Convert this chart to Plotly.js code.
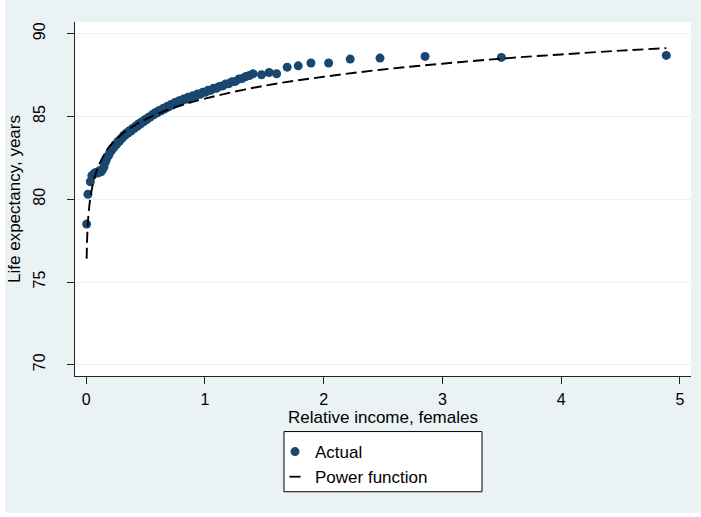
<!DOCTYPE html>
<html>
<head>
<meta charset="utf-8">
<script src="https://cdn.plot.ly/plotly-3.0.1.min.js"></script>
<style>html,body{margin:0;padding:0;background:#FFFFFF;}#chart{width:701px;height:517px;}</style>
</head>
<body>
<div id="chart"></div>
<script>
// Relative income (females) by income percentile
var incomeX = [0.004, 0.015, 0.035, 0.048, 0.062, 0.080, 0.097, 0.112, 0.126, 0.138,
  0.150, 0.160, 0.170, 0.180, 0.190, 0.200, 0.211, 0.222, 0.233, 0.245,
  0.257, 0.268, 0.280, 0.292, 0.304, 0.316, 0.328, 0.340, 0.352, 0.365,
  0.378, 0.391, 0.404, 0.417, 0.430, 0.443, 0.456, 0.470, 0.484, 0.498,
  0.512, 0.526, 0.540, 0.555, 0.570, 0.585, 0.600, 0.615, 0.631, 0.647,
  0.663, 0.679, 0.696, 0.713, 0.730, 0.747, 0.765, 0.783, 0.801, 0.820,
  0.839, 0.858, 0.878, 0.898, 0.918, 0.939, 0.960, 0.982, 1.004, 1.026,
  1.049, 1.073, 1.097, 1.122, 1.147, 1.173, 1.200, 1.228, 1.256, 1.285,
  1.315, 1.345, 1.375, 1.406, 1.477, 1.541, 1.604, 1.693, 1.786, 1.893,
  2.042, 2.224, 2.475, 2.854, 3.497, 4.886];
// Life expectancy, years (actual)
var lifeExp = [78.50, 80.30, 81.06, 81.42, 81.52, 81.62, 81.58, 81.72, 81.66, 81.80,
  81.95, 82.22, 82.40, 82.58, 82.66, 82.85, 82.92, 83.08, 83.12, 83.30,
  83.32, 83.50, 83.50, 83.66, 83.70, 83.86, 83.86, 84.00, 84.00, 84.14,
  84.12, 84.28, 84.27, 84.42, 84.40, 84.56, 84.54, 84.68, 84.68, 84.82,
  84.82, 84.96, 84.96, 85.10, 85.10, 85.24, 85.22, 85.36, 85.34, 85.48,
  85.46, 85.60, 85.58, 85.72, 85.70, 85.84, 85.82, 85.95, 85.93, 86.05,
  86.04, 86.16, 86.14, 86.26, 86.24, 86.36, 86.34, 86.46, 86.46, 86.58,
  86.58, 86.70, 86.70, 86.82, 86.84, 86.96, 86.98, 87.10, 87.12, 87.26,
  87.30, 87.42, 87.48, 87.58, 87.52, 87.66, 87.58, 87.98, 88.06, 88.23,
  88.23, 88.47, 88.53, 88.63, 88.57, 88.69];
// Fitted power function
var fitX = [0.004, 0.01, 0.02, 0.04, 0.07, 0.10, 0.15, 0.20, 0.30, 0.40, 0.50, 0.70,
  1.00, 1.50, 2.00, 2.50, 3.00, 3.50, 4.00, 4.50, 4.886];
var fitY = [76.40, 77.93, 79.11, 80.31, 81.29, 81.93, 82.68, 83.22, 83.93, 84.43, 84.83, 85.44,
  86.08, 86.86, 87.40, 87.84, 88.19, 88.50, 88.75, 88.98, 89.13];
var yTicks = [70, 75, 80, 85, 90];
var xTicks = [0, 1, 2, 3, 4, 5];
var seriesNames = ['Actual', 'Power function'];

var navy = '#1A476F';
var FONT = 'Liberation Sans, Arial, sans-serif';

var traces = [
  {x: incomeX, y: lifeExp, type: 'scatter', mode: 'markers', name: seriesNames[0], showlegend: false,
   marker: {color: navy, size: 9, line: {width: 0}}, cliponaxis: false},
  {x: fitX, y: fitY, type: 'scatter', mode: 'lines', name: seriesNames[1], showlegend: false,
   line: {color: '#000', width: 1.9, dash: '11px,5px', shape: 'spline'}},
  {x: [null], y: [null], type: 'scatter', mode: 'markers', name: seriesNames[0],
   marker: {color: navy, size: 9}},
  {x: [null], y: [null], type: 'scatter', mode: 'markers', name: seriesNames[1],
   marker: {color: '#000', size: 8, symbol: 'line-ew-open', line: {color: '#000', width: 1.8}}}
];

var layout = {
  width: 701, height: 517,
  margin: {l: 75, r: 10, t: 22, b: 141, pad: 0},
  paper_bgcolor: '#EAF2F3',
  plot_bgcolor: '#FFFFFF',
  font: {family: FONT, size: 16, color: '#000'},
  showlegend: true,
  xaxis: {
    range: [-0.094, 5.094], tickvals: xTicks, ticktext: xTicks.map(String),
    showgrid: false, zeroline: false, showline: true, linecolor: '#222', linewidth: 1,
    ticks: 'outside', ticklen: 7, tickcolor: '#222', tickwidth: 1,
    tickfont: {family: FONT, size: 16, color: '#000'}, ticklabelstandoff: 2,
    automargin: true,
    title: {text: 'Relative income, females', font: {family: FONT, size: 17, color: '#000'}, standoff: 0}
  },
  yaxis: {
    range: [69.32, 90.71], tickvals: yTicks, ticktext: yTicks.map(String),
    showgrid: true, gridcolor: '#EAF2F3', gridwidth: 1, zeroline: false,
    showline: true, linecolor: '#222', linewidth: 1,
    ticks: 'outside', ticklen: 7, tickcolor: '#222', tickwidth: 1, tickangle: -90,
    tickfont: {family: FONT, size: 16, color: '#000'}, ticklabelstandoff: 16,
    automargin: true,
    title: {text: 'Life expectancy, years', font: {family: FONT, size: 17, color: '#000'}, standoff: 5}
  },
  legend: {
    x: 0.3247, y: -0.164, xanchor: 'left', yanchor: 'top',
    bgcolor: 'rgba(0,0,0,0)', borderwidth: 0,
    font: {family: FONT, size: 17, color: '#000'}
  },
  shapes: [
    {type: 'rect', xref: 'paper', yref: 'paper',
     x0: 0.3393, x1: 0.6607, y0: -0.157, y1: -0.327,
     line: {color: '#000', width: 1}, fillcolor: '#FFFFFF', layer: 'below'},
    // thin white strips at the left and bottom edges of the image
    {type: 'rect', xref: 'paper', yref: 'paper',
     x0: -0.125, x1: -0.1136, y0: -0.40, y1: 1.07,
     line: {width: 0}, fillcolor: '#FFFFFF', layer: 'above'},
    {type: 'rect', xref: 'paper', yref: 'paper',
     x0: -0.125, x1: 1.02, y0: -0.40, y1: -0.3862,
     line: {width: 0}, fillcolor: '#FFFFFF', layer: 'above'}
  ]
};

Plotly.newPlot('chart', traces, layout, {displayModeBar: false, staticPlot: true});
</script>
</body>
</html>
